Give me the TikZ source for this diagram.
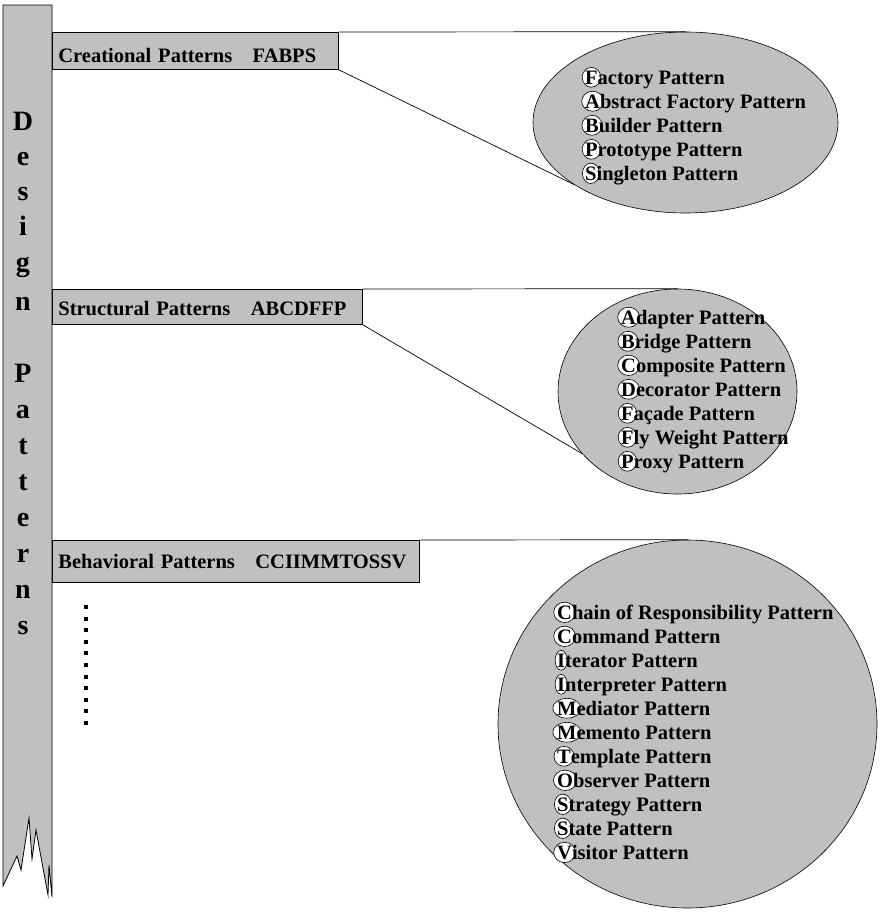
\documentclass[tikz,border=0pt]{standalone}
\usepackage{fontspec}
\setmainfont{Liberation Serif}
\usetikzlibrary{shapes.geometric}

\definecolor{panel}{HTML}{C0C0C0}

\newsavebox{\letterbox}
\newcommand{\ringed}[1]{\sbox\letterbox{#1}\makebox[\wd\letterbox][c]{\tikz[baseline=(L.base)] \node[ring] (L) {#1};}}

\begin{document}
\begin{tikzpicture}[x=1pt, y=-1pt,
  ring/.style={ellipse, draw=black, fill=white, line width=0.6pt, inner sep=0.3pt, anchor=center},
  bar/.style={draw=black, fill=panel, line width=0.8pt, anchor=north west, inner xsep=6pt, inner ysep=0pt, align=left, font=\fontsize{20.5}{24}\selectfont\bfseries},
  bubble/.style={ellipse, draw=black, fill=panel, line width=0.6pt, inner sep=0pt},
  item/.style={anchor=base west, inner sep=0pt, font=\fontsize{20.5}{24}\selectfont\bfseries},
  title/.style={anchor=base, inner sep=0pt, font=\fontsize{28}{30}\selectfont\bfseries}]

\useasboundingbox (0,0) rectangle (883,913);

% spine with torn end
\filldraw[fill=panel, draw=black, line width=0.8pt] (3,5) -- (52,5) -- (52,897) -- (49,865) -- (48,895) -- (36,830) -- (32,859) -- (29,818) -- (21,870) -- (17,856) -- (3,886) -- cycle;

\foreach \ch/\yb in {D/130, e/165, s/200, i/235, g/271, n/310, P/382, a/418, t/454, t/490, e/526, r/562, n/598, s/634}
  \node[title] (s\yb) at (23,\yb) {\ch};

% the three groups
\node[bar, text width=274pt, text height=30pt, text depth=7pt] (cre) at (52,32) {Creational Patterns\hspace{1em}FABPS};
\node[bar, text width=298pt, text height=26pt, text depth=9pt] (str) at (52,289) {Structural Patterns\hspace{1em}ABCDFFP};
\node[bar, text width=355pt, text height=28pt, text depth=14pt] (beh) at (52,540) {Behavioral Patterns\hspace{1em}CCIIMMTOSSV};

\node[bubble, minimum width=305pt, minimum height=181pt] (ell1) at (685.5,122.5) {};
\node[bubble, minimum width=239pt, minimum height=205pt] (ell2) at (677.5,391.5) {};
\node[bubble, minimum width=379pt, minimum height=368pt] (ell3) at (687.5,724) {};

\draw[line width=0.7pt] (cre.north east) -- (ell1.north);
\draw[line width=0.7pt] (cre.south east) -- (ell1.209);
\draw[line width=0.7pt] (str.north east) -- (ell2.north);
\draw[line width=0.7pt] (str.south east) -- (ell2.213);
\draw[line width=0.7pt] (beh.north east) -- (ell3.north);

\foreach \first/\rest [count=\i] in {F/actory Pattern, A/bstract Factory Pattern, B/uilder Pattern, P/rototype Pattern, S/ingleton Pattern}
  \node[item] (c\i) at (585,{60+24*\i}) {\ringed{\first}\rest};

\foreach \first/\rest [count=\i] in {A/dapter Pattern, B/ridge Pattern, C/omposite Pattern, D/ecorator Pattern, F/açade Pattern, F/ly Weight Pattern, P/roxy Pattern}
  \node[item] (t\i) at (621,{300+24*\i}) {\ringed{\first}\rest};

\foreach \first/\rest [count=\i] in {C/hain of Responsibility Pattern, C/ommand Pattern, I/terator Pattern, I/nterpreter Pattern, M/ediator Pattern, M/emento Pattern, T/emplate Pattern, O/bserver Pattern, S/trategy Pattern, S/tate Pattern, V/isitor Pattern}
  \node[item] (b\i) at (557,{595+24*\i}) {\ringed{\first}\rest};

% more to come
\draw[line width=4pt, dash pattern=on 4pt off 7.6pt] (86,605) -- (86,725);

\end{tikzpicture}
\end{document}
